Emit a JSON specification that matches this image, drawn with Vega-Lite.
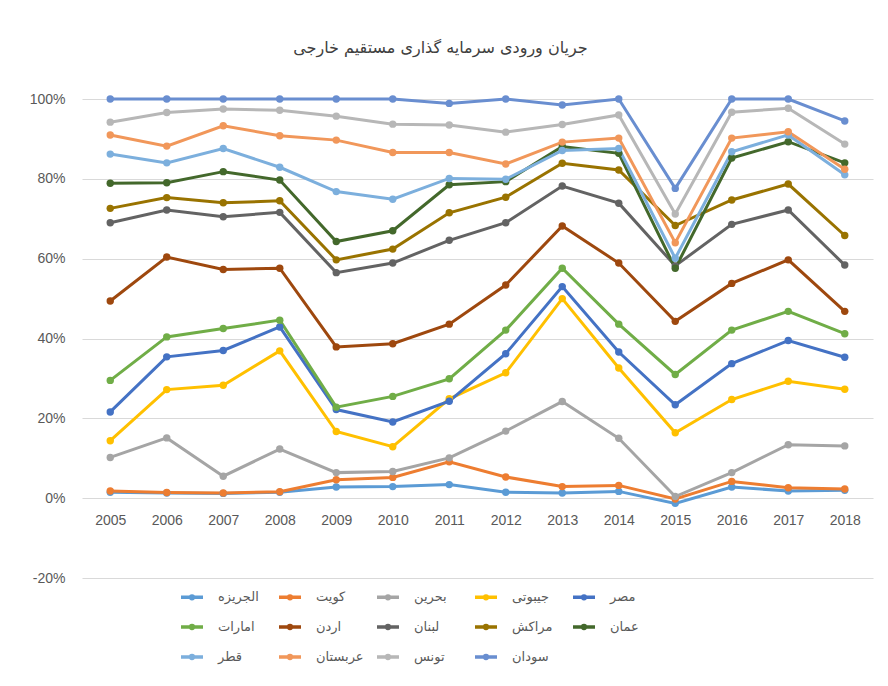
{
"$schema": "https://vega.github.io/schema/vega-lite/v6.json",
"autosize": {"type": "none"},
"width": 791, "height": 479,
"padding": {"left": 82, "top": 99, "right": 15, "bottom": 108},
"background": "white",
"title": {"text": "جریان ورودی سرمایه گذاری مستقیم خارجی", "font": "DejaVu Sans", "fontSize": 16, "fontWeight": "normal", "color": "#404040", "anchor": "middle", "frame": "group", "dx": -37, "offset": 36},
"data": {"values": [
{"year":"2005","country":"الجریزه","value":1.5},{"year":"2006","country":"الجریزه","value":1.3},{"year":"2007","country":"الجریزه","value":1.2},{"year":"2008","country":"الجریزه","value":1.5},{"year":"2009","country":"الجریزه","value":2.8},{"year":"2010","country":"الجریزه","value":2.9},{"year":"2011","country":"الجریزه","value":3.4},{"year":"2012","country":"الجریزه","value":1.5},{"year":"2013","country":"الجریزه","value":1.3},{"year":"2014","country":"الجریزه","value":1.7},{"year":"2015","country":"الجریزه","value":-1.3},{"year":"2016","country":"الجریزه","value":2.8},{"year":"2017","country":"الجریزه","value":1.8},{"year":"2018","country":"الجریزه","value":2.0},
{"year":"2005","country":"کویت","value":1.8},{"year":"2006","country":"کویت","value":1.4},{"year":"2007","country":"کویت","value":1.3},{"year":"2008","country":"کویت","value":1.6},{"year":"2009","country":"کویت","value":4.6},{"year":"2010","country":"کویت","value":5.2},{"year":"2011","country":"کویت","value":9.1},{"year":"2012","country":"کویت","value":5.3},{"year":"2013","country":"کویت","value":2.9},{"year":"2014","country":"کویت","value":3.2},{"year":"2015","country":"کویت","value":-0.2},{"year":"2016","country":"کویت","value":4.2},{"year":"2017","country":"کویت","value":2.6},{"year":"2018","country":"کویت","value":2.3},
{"year":"2005","country":"بحرین","value":10.2},{"year":"2006","country":"بحرین","value":15.1},{"year":"2007","country":"بحرین","value":5.5},{"year":"2008","country":"بحرین","value":12.3},{"year":"2009","country":"بحرین","value":6.4},{"year":"2010","country":"بحرین","value":6.7},{"year":"2011","country":"بحرین","value":10.1},{"year":"2012","country":"بحرین","value":16.8},{"year":"2013","country":"بحرین","value":24.2},{"year":"2014","country":"بحرین","value":15.0},{"year":"2015","country":"بحرین","value":0.4},{"year":"2016","country":"بحرین","value":6.4},{"year":"2017","country":"بحرین","value":13.4},{"year":"2018","country":"بحرین","value":13.1},
{"year":"2005","country":"جیبوتی","value":14.4},{"year":"2006","country":"جیبوتی","value":27.2},{"year":"2007","country":"جیبوتی","value":28.3},{"year":"2008","country":"جیبوتی","value":36.9},{"year":"2009","country":"جیبوتی","value":16.7},{"year":"2010","country":"جیبوتی","value":12.9},{"year":"2011","country":"جیبوتی","value":24.9},{"year":"2012","country":"جیبوتی","value":31.4},{"year":"2013","country":"جیبوتی","value":50.0},{"year":"2014","country":"جیبوتی","value":32.6},{"year":"2015","country":"جیبوتی","value":16.4},{"year":"2016","country":"جیبوتی","value":24.7},{"year":"2017","country":"جیبوتی","value":29.3},{"year":"2018","country":"جیبوتی","value":27.3},
{"year":"2005","country":"مصر","value":21.6},{"year":"2006","country":"مصر","value":35.4},{"year":"2007","country":"مصر","value":37.0},{"year":"2008","country":"مصر","value":42.9},{"year":"2009","country":"مصر","value":22.2},{"year":"2010","country":"مصر","value":19.1},{"year":"2011","country":"مصر","value":24.3},{"year":"2012","country":"مصر","value":36.2},{"year":"2013","country":"مصر","value":53.0},{"year":"2014","country":"مصر","value":36.6},{"year":"2015","country":"مصر","value":23.4},{"year":"2016","country":"مصر","value":33.7},{"year":"2017","country":"مصر","value":39.5},{"year":"2018","country":"مصر","value":35.3},
{"year":"2005","country":"امارات","value":29.5},{"year":"2006","country":"امارات","value":40.4},{"year":"2007","country":"امارات","value":42.5},{"year":"2008","country":"امارات","value":44.6},{"year":"2009","country":"امارات","value":22.8},{"year":"2010","country":"امارات","value":25.5},{"year":"2011","country":"امارات","value":29.9},{"year":"2012","country":"امارات","value":42.1},{"year":"2013","country":"امارات","value":57.6},{"year":"2014","country":"امارات","value":43.6},{"year":"2015","country":"امارات","value":31.0},{"year":"2016","country":"امارات","value":42.1},{"year":"2017","country":"امارات","value":46.8},{"year":"2018","country":"امارات","value":41.2},
{"year":"2005","country":"اردن","value":49.4},{"year":"2006","country":"اردن","value":60.4},{"year":"2007","country":"اردن","value":57.3},{"year":"2008","country":"اردن","value":57.6},{"year":"2009","country":"اردن","value":37.9},{"year":"2010","country":"اردن","value":38.7},{"year":"2011","country":"اردن","value":43.6},{"year":"2012","country":"اردن","value":53.4},{"year":"2013","country":"اردن","value":68.2},{"year":"2014","country":"اردن","value":58.9},{"year":"2015","country":"اردن","value":44.3},{"year":"2016","country":"اردن","value":53.8},{"year":"2017","country":"اردن","value":59.7},{"year":"2018","country":"اردن","value":46.8},
{"year":"2005","country":"لبنان","value":69.0},{"year":"2006","country":"لبنان","value":72.2},{"year":"2007","country":"لبنان","value":70.5},{"year":"2008","country":"لبنان","value":71.6},{"year":"2009","country":"لبنان","value":56.5},{"year":"2010","country":"لبنان","value":58.9},{"year":"2011","country":"لبنان","value":64.6},{"year":"2012","country":"لبنان","value":69.0},{"year":"2013","country":"لبنان","value":78.2},{"year":"2014","country":"لبنان","value":73.9},{"year":"2015","country":"لبنان","value":58.2},{"year":"2016","country":"لبنان","value":68.6},{"year":"2017","country":"لبنان","value":72.2},{"year":"2018","country":"لبنان","value":58.4},
{"year":"2005","country":"مراکش","value":72.6},{"year":"2006","country":"مراکش","value":75.3},{"year":"2007","country":"مراکش","value":74.0},{"year":"2008","country":"مراکش","value":74.5},{"year":"2009","country":"مراکش","value":59.7},{"year":"2010","country":"مراکش","value":62.4},{"year":"2011","country":"مراکش","value":71.5},{"year":"2012","country":"مراکش","value":75.4},{"year":"2013","country":"مراکش","value":83.9},{"year":"2014","country":"مراکش","value":82.2},{"year":"2015","country":"مراکش","value":68.3},{"year":"2016","country":"مراکش","value":74.7},{"year":"2017","country":"مراکش","value":78.7},{"year":"2018","country":"مراکش","value":65.8},
{"year":"2005","country":"عمان","value":78.9},{"year":"2006","country":"عمان","value":79.0},{"year":"2007","country":"عمان","value":81.8},{"year":"2008","country":"عمان","value":79.7},{"year":"2009","country":"عمان","value":64.3},{"year":"2010","country":"عمان","value":67.0},{"year":"2011","country":"عمان","value":78.5},{"year":"2012","country":"عمان","value":79.3},{"year":"2013","country":"عمان","value":88.1},{"year":"2014","country":"عمان","value":86.4},{"year":"2015","country":"عمان","value":57.6},{"year":"2016","country":"عمان","value":85.2},{"year":"2017","country":"عمان","value":89.3},{"year":"2018","country":"عمان","value":84.0},
{"year":"2005","country":"قطر","value":86.2},{"year":"2006","country":"قطر","value":84.0},{"year":"2007","country":"قطر","value":87.6},{"year":"2008","country":"قطر","value":82.9},{"year":"2009","country":"قطر","value":76.8},{"year":"2010","country":"قطر","value":74.9},{"year":"2011","country":"قطر","value":80.1},{"year":"2012","country":"قطر","value":79.9},{"year":"2013","country":"قطر","value":87.1},{"year":"2014","country":"قطر","value":87.6},{"year":"2015","country":"قطر","value":60.1},{"year":"2016","country":"قطر","value":86.8},{"year":"2017","country":"قطر","value":91.0},{"year":"2018","country":"قطر","value":81.0},
{"year":"2005","country":"عربستان","value":91.0},{"year":"2006","country":"عربستان","value":88.2},{"year":"2007","country":"عربستان","value":93.3},{"year":"2008","country":"عربستان","value":90.8},{"year":"2009","country":"عربستان","value":89.7},{"year":"2010","country":"عربستان","value":86.6},{"year":"2011","country":"عربستان","value":86.6},{"year":"2012","country":"عربستان","value":83.7},{"year":"2013","country":"عربستان","value":89.2},{"year":"2014","country":"عربستان","value":90.2},{"year":"2015","country":"عربستان","value":64.0},{"year":"2016","country":"عربستان","value":90.2},{"year":"2017","country":"عربستان","value":91.8},{"year":"2018","country":"عربستان","value":82.4},
{"year":"2005","country":"تونس","value":94.2},{"year":"2006","country":"تونس","value":96.6},{"year":"2007","country":"تونس","value":97.5},{"year":"2008","country":"تونس","value":97.2},{"year":"2009","country":"تونس","value":95.7},{"year":"2010","country":"تونس","value":93.7},{"year":"2011","country":"تونس","value":93.5},{"year":"2012","country":"تونس","value":91.7},{"year":"2013","country":"تونس","value":93.6},{"year":"2014","country":"تونس","value":96.0},{"year":"2015","country":"تونس","value":71.2},{"year":"2016","country":"تونس","value":96.7},{"year":"2017","country":"تونس","value":97.7},{"year":"2018","country":"تونس","value":88.7},
{"year":"2005","country":"سودان","value":100},{"year":"2006","country":"سودان","value":100},{"year":"2007","country":"سودان","value":100},{"year":"2008","country":"سودان","value":100},{"year":"2009","country":"سودان","value":100},{"year":"2010","country":"سودان","value":100},{"year":"2011","country":"سودان","value":98.9},{"year":"2012","country":"سودان","value":100},{"year":"2013","country":"سودان","value":98.5},{"year":"2014","country":"سودان","value":100},{"year":"2015","country":"سودان","value":77.6},{"year":"2016","country":"سودان","value":100},{"year":"2017","country":"سودان","value":100},{"year":"2018","country":"سودان","value":94.5}
]},
"mark": {"type": "line", "strokeWidth": 3, "clip": false, "point": {"filled": true, "size": 55}},
"encoding": {
  "x": {"field": "year", "type": "ordinal", "sort": null, "scale": {"padding": 0.5},
    "axis": {"title": null, "domain": false, "ticks": false, "labelAngle": 0, "offset": -80, "labelPadding": 15, "labelFont": "Liberation Sans", "labelFontSize": 14, "labelColor": "#595959", "grid": false}},
  "y": {"field": "value", "type": "quantitative", "scale": {"domain": [-20, 100], "nice": false, "zero": false},
    "axis": {"title": null, "domain": false, "ticks": false, "values": [-20, 0, 20, 40, 60, 80, 100], "labelExpr": "datum.value + '%'", "labelPadding": 17, "labelFont": "Liberation Sans", "labelFontSize": 14, "labelColor": "#595959", "grid": true, "gridColor": "#d9d9d9", "gridWidth": 1}},
  "color": {"field": "country", "type": "nominal", "sort": null,
    "scale": {"domain": ["الجریزه","کویت","بحرین","جیبوتی","مصر","امارات","اردن","لبنان","مراکش","عمان","قطر","عربستان","تونس","سودان"],
      "range": ["#5B9BD5","#ED7D31","#A5A5A5","#FFC000","#4472C4","#70AD47","#9E480E","#636363","#997300","#43682B","#7CAFDD","#F1975A","#B7B7B7","#698ED0"]},
    "legend": {"title": null, "orient": "none", "legendX": 103, "legendY": 491, "direction": "horizontal", "columns": 5, "gridAlign": "all",
      "symbolType": "M-2.2,0H2.2M-0.28,0A0.28,0.28 0 1,0 0.28,0A0.28,0.28 0 1,0 -0.28,0", "symbolSize": 100, "symbolStrokeWidth": 3.5, "symbolFillColor": "transparent",
      "labelOffset": 19, "columnPadding": 6, "rowPadding": 12, "labelFont": "DejaVu Sans", "labelFontSize": 13, "labelColor": "#595959", "padding": 0}}
},
"config": {"view": {"stroke": null}}
}
